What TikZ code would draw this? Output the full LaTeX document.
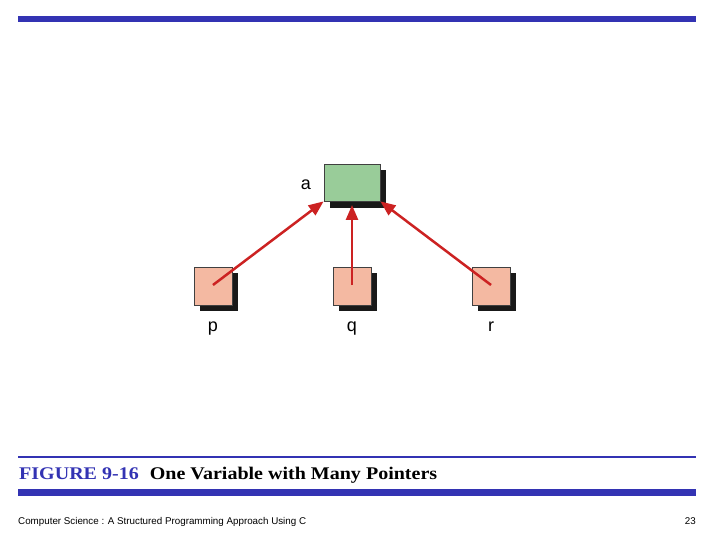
\documentclass[tikz,border=0pt]{standalone}
\usepackage{fontspec}
\setmainfont{Liberation Serif}
\setsansfont{Liberation Sans}
\usetikzlibrary{arrows.meta}
\definecolor{barblue}{HTML}{3333B3}
\definecolor{boxgreen}{HTML}{99CC99}
\definecolor{boxsalmon}{HTML}{F4B9A2}
\definecolor{arrowred}{HTML}{CC2222}
\begin{document}
\begin{tikzpicture}[x=1pt,y=-1pt,
  greenbox/.style={draw=black!75,fill=boxgreen,line width=0.8pt,minimum width=56pt,minimum height=37pt,inner sep=0pt},
  salmonbox/.style={draw=black!75,fill=boxsalmon,line width=0.8pt,minimum width=38pt,minimum height=38pt,inner sep=0pt},
  shadowbox/.style={fill=black!90},
  ptr/.style={draw=arrowred,line width=2.5pt,-{Triangle[length=15pt,width=12pt]}},
  lbl/.style={font=\sffamily\fontsize{18}{18}\selectfont,inner sep=0pt},
  bar/.style={fill=barblue}]
\useasboundingbox (0,0) rectangle (720,540);
% top bar
\fill[bar] (18,16) rectangle (696,22.5);
% shadows
\fill[shadowbox] (330,170) rectangle (386,208);
\fill[shadowbox] (200,273) rectangle (238,311);
\fill[shadowbox] (339,273) rectangle (377,311);
\fill[shadowbox] (478,273) rectangle (516,311);
% boxes
\node[greenbox] (a) at (352,182.5) {};
\node[salmonbox] (p) at (213,286) {};
\node[salmonbox] (q) at (352,286) {};
\node[salmonbox] (r) at (491,286) {};
% labels
\node[lbl,anchor=base] (la) at (306,190) {a};
\node[lbl,anchor=base] (lp) at (213,331) {p};
\node[lbl,anchor=base] (lq) at (352,331) {q};
\node[lbl,anchor=base] (lr) at (491,331) {r};
% pointers
\coordinate (pc) at (213,285);
\coordinate (qc) at (352,285);
\coordinate (rc) at (491,285);
\coordinate (qtip) at (352,205);
\draw[ptr] (pc) -- (a.south west);
\draw[ptr] (qc) -- (qtip);
\draw[ptr] (rc) -- (a.south east);
% caption
\fill[barblue] (18,456) rectangle (696,458);
\node[anchor=base west,inner sep=0pt,font=\bfseries\fontsize{17.8}{17.8}\selectfont] (cap) at (19,479) {\scalebox{1.125}[1]{\textcolor{barblue}{FIGURE 9-16}\hspace{0.55em}One Variable with Many Pointers}};
\fill[bar] (18,489) rectangle (696,495.5);
% footer
\node[anchor=base west,inner sep=0pt,font=\sffamily\fontsize{9.8}{9.8}\selectfont] (foot) at (18,524) {Computer Science : A Structured Programming Approach Using C};
\node[anchor=base east,inner sep=0pt,font=\sffamily\fontsize{9.8}{9.8}\selectfont] (pg) at (696,524) {23};
\end{tikzpicture}
\end{document}
